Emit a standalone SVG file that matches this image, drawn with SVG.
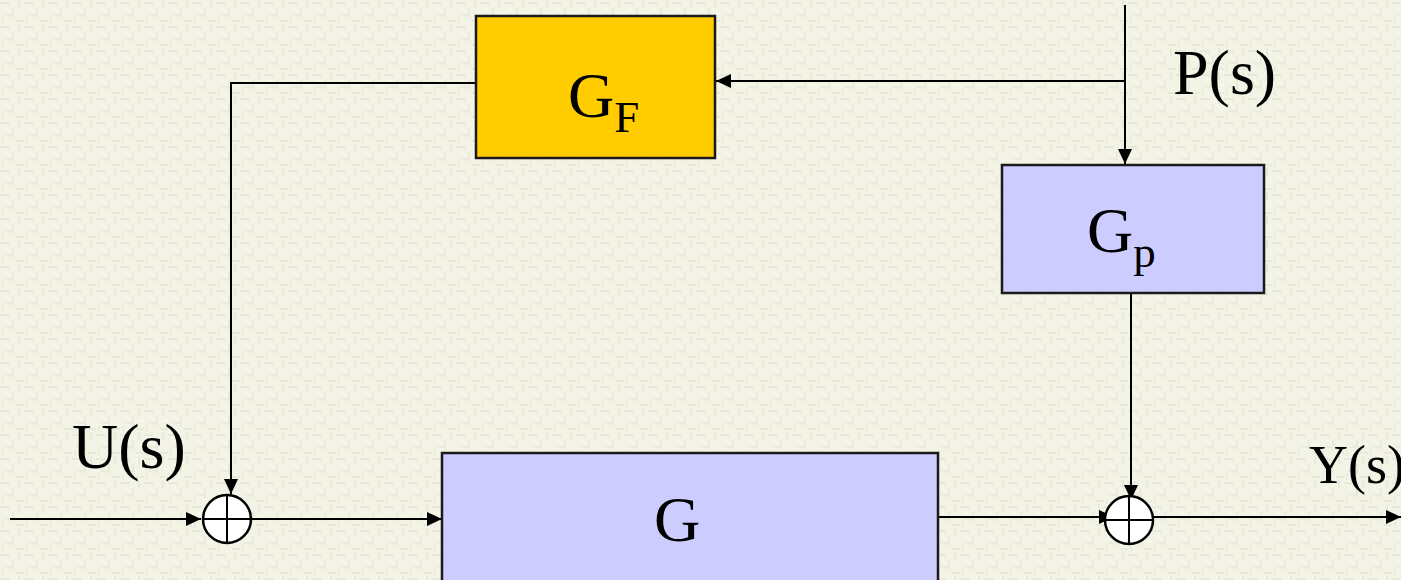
<svg xmlns="http://www.w3.org/2000/svg" width="1401" height="580" viewBox="0 0 1401 580">
  <defs>
    <pattern id="weave" width="24" height="24" patternUnits="userSpaceOnUse">
      <rect width="24" height="24" fill="#f3f3e6"/>
      <rect x="0" y="2" width="10" height="2" fill="#e9e9db"/>
      <rect x="12" y="8" width="2" height="10" fill="#eaeadc"/>
      <rect x="4" y="14" width="8" height="2" fill="#ebebde"/>
      <rect x="18" y="0" width="2" height="8" fill="#eaeadc"/>
      <rect x="16" y="20" width="8" height="2" fill="#e9e9db"/>
      <rect x="2" y="18" width="2" height="6" fill="#ebebde"/>
      <rect x="20" y="12" width="4" height="2" fill="#f8f8ee"/>
      <rect x="6" y="6" width="2" height="4" fill="#f8f8ee"/>
    </pattern>
    <marker id="arrow" markerUnits="userSpaceOnUse" markerWidth="16" markerHeight="14" refX="15" refY="7" orient="auto">
      <path d="M0,0 L15,7 L0,14 Z" fill="#000"/>
    </marker>
    <style>
      .wire { fill: none; stroke: #000; stroke-width: 2; }
      .box { stroke: #1a1a1a; stroke-width: 2.5; }
      .sum { fill: #fff; stroke: #000; stroke-width: 2.5; }
      .lbl { font-family: "Liberation Serif", "Times New Roman", serif; fill: #000; }
    </style>
  </defs>

  <rect width="1401" height="580" fill="url(#weave)"/>

  <!-- connectors -->
  <g id="connectors">
    <path class="wire" d="M10,519 H201" marker-end="url(#arrow)"/>
    <path class="wire" d="M251,519 H442" marker-end="url(#arrow)"/>
    <path class="wire" d="M938,517 H1114" marker-end="url(#arrow)"/>
    <path class="wire" d="M1153,517 H1401" marker-end="url(#arrow)"/>
    <path class="wire" d="M1125,5 V164" marker-end="url(#arrow)"/>
    <path class="wire" d="M1125,81 H716" marker-end="url(#arrow)"/>
    <path class="wire" d="M476,83 H231 V494" marker-end="url(#arrow)"/>
    <path class="wire" d="M1131,293 V500" marker-end="url(#arrow)"/>
  </g>

  <!-- feedforward block -->
  <g id="node-GF">
    <rect class="box" x="476" y="16" width="239" height="142" fill="#ffcc00"/>
    <text class="lbl" x="568" y="117" font-size="64">G<tspan font-size="45" dy="15">F</tspan></text>
  </g>

  <!-- disturbance block -->
  <g id="node-Gp">
    <rect class="box" x="1002" y="165" width="262" height="128" fill="#ccccff"/>
    <text class="lbl" x="1087" y="252" font-size="64">G<tspan font-size="45" dy="15">p</tspan></text>
  </g>

  <!-- plant block -->
  <g id="node-G">
    <rect class="box" x="442" y="453" width="496" height="140" fill="#ccccff"/>
    <text class="lbl" x="654" y="541" font-size="64">G</text>
  </g>

  <!-- summing junctions -->
  <g id="node-sum1">
    <circle class="sum" cx="227" cy="519" r="24"/>
    <path class="wire" d="M203,519 H251 M227,495 V543"/>
  </g>
  <g id="node-sum2">
    <circle class="sum" cx="1129" cy="520" r="24"/>
    <path class="wire" d="M1105,520 H1153 M1129,496 V544"/>
  </g>

  <!-- signal labels -->
  <g id="labels">
    <text class="lbl" x="1173" y="94" font-size="64">P(s)</text>
    <text class="lbl" x="72" y="468" font-size="64">U(s)</text>
    <text class="lbl" x="1309" y="483" font-size="54">Y(s)</text>
  </g>
</svg>
